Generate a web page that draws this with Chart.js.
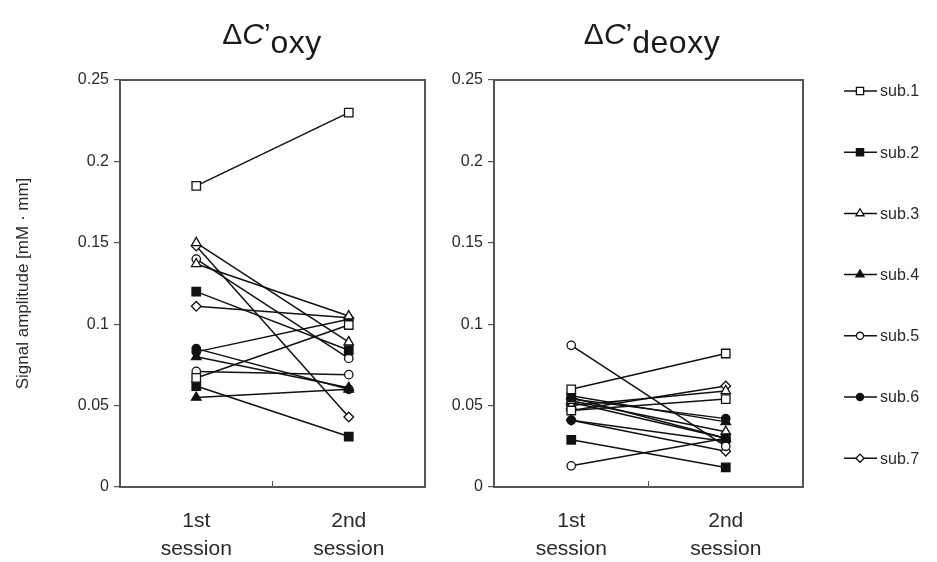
<!DOCTYPE html>
<html>
<head>
<meta charset="utf-8">
<script src="https://cdn.jsdelivr.net/npm/chart.js@4"></script>
<style>
  html, body { margin: 0; padding: 0; background: #fff; }
  #wrap { position: relative; width: 937px; height: 562px; overflow: hidden;
          font-family: "Liberation Sans", Arial, sans-serif; }
  #cA { position: absolute; left: 0; top: 0; }
  #cB { position: absolute; left: 440px; top: 0; }
  .ttl { position: absolute; top: 14px; font-size: 30px; color: #1a1a1a; white-space: nowrap;
         transform: translateX(-50%); line-height: 40px; }
  .ttl i { font-style: italic; }
  .ttl sub { font-size: 32px; letter-spacing: 0.5px; vertical-align: -9px; line-height: 0; }
</style>
</head>
<body>
<div id="wrap">
  <canvas id="cA" width="440" height="562"></canvas>
  <canvas id="cB" width="497" height="562"></canvas>
  <div class="ttl" style="left:272px">Δ<i>C</i>’<sub>oxy</sub></div>
  <div class="ttl" style="left:652px">Δ<i>C</i>’<sub>deoxy</sub></div>
</div>
<script>
// Session categories and axis labels
const sessions = [['1st', 'session'], ['2nd', 'session']];
const subjects = ['sub.1', 'sub.2', 'sub.3', 'sub.4', 'sub.5', 'sub.6', 'sub.7'];
const yTickValues = [0, 0.05, 0.1, 0.15, 0.2, 0.25];
const yTickLabels = ['0', '0.05', '0.1', '0.15', '0.2', '0.25'];
const yAxisTitle = 'Signal amplitude [mM · mm]';

// ΔC'oxy: two measurement sites per subject, [1st session, 2nd session]
const oxySub1 = [[0.185, 0.230], [0.067, 0.0995]];
const oxySub2 = [[0.120, 0.084], [0.062, 0.031]];
const oxySub3 = [[0.150, 0.089], [0.137, 0.105]];
const oxySub4 = [[0.080, 0.061], [0.055, 0.060]];
const oxySub5 = [[0.140, 0.079], [0.071, 0.069]];
const oxySub6 = [[0.085, 0.060], [0.083, 0.103]];
const oxySub7 = [[0.148, 0.043], [0.111, 0.104]];

// ΔC'deoxy: two measurement sites per subject, [1st session, 2nd session]
const deoxySub1 = [[0.060, 0.082], [0.047, 0.054]];
const deoxySub2 = [[0.029, 0.012], [0.055, 0.030]];
const deoxySub3 = [[0.053, 0.034], [0.050, 0.059]];
const deoxySub4 = [[0.056, 0.040], [0.052, 0.030]];
const deoxySub5 = [[0.087, 0.025], [0.013, 0.030]];
const deoxySub6 = [[0.054, 0.042], [0.041, 0.028]];
const deoxySub7 = [[0.047, 0.062], [0.041, 0.022]];

const oxyData = [oxySub1, oxySub2, oxySub3, oxySub4, oxySub5, oxySub6, oxySub7];
const deoxyData = [deoxySub1, deoxySub2, deoxySub3, deoxySub4, deoxySub5, deoxySub6, deoxySub7];

// Marker appearance per subject
const markerStyle = [
  { shape: 'rect',     radius: 6,   filled: false },
  { shape: 'rect',     radius: 6,   filled: true  },
  { shape: 'triangle', radius: 5.5, filled: false },
  { shape: 'triangle', radius: 5.5, filled: true  },
  { shape: 'circle',   radius: 4.2, filled: false },
  { shape: 'circle',   radius: 4.2, filled: true  },
  { shape: 'rectRot',  radius: 4.8, filled: false }
];
const INK = '#111';
const TEXT = '#2a2a2a';
const FRAME = '#555';

function buildDatasets(series) {
  const sets = [];
  series.forEach((sites, i) => {
    const m = markerStyle[i];
    sites.forEach(values => {
      sets.push({
        label: subjects[i],
        data: values,
        borderColor: INK,
        borderWidth: 1.5,
        pointStyle: m.shape,
        pointRadius: m.radius,
        pointBorderWidth: 1.3,
        pointBorderColor: INK,
        pointBackgroundColor: m.filled ? INK : '#fff',
        tension: 0
      });
    });
  });
  return sets;
}

// Frame around the plot area plus the small divider tick on the session axis
const frameBox = {
  id: 'frameBox',
  afterDatasetsDraw(chart) {
    const { ctx, chartArea: a } = chart;
    const xs = chart.scales.x;
    const mid = (xs.getPixelForValue(0) + xs.getPixelForValue(1)) / 2;
    ctx.save();
    ctx.strokeStyle = FRAME;
    ctx.lineWidth = 2;
    ctx.strokeRect(a.left, a.top, a.right - a.left, a.bottom - a.top);
    ctx.lineWidth = 1;
    ctx.beginPath();
    ctx.moveTo(mid, a.bottom);
    ctx.lineTo(mid, a.bottom - 6);
    ctx.stroke();
    ctx.restore();
  }
};

// Vertical subject key to the right of the deoxy panel
const subjectKey = {
  id: 'subjectKey',
  afterDraw(chart) {
    const { ctx, chartArea: a } = chart;
    const x0 = a.right + 41;
    const top = 91, step = 61.2;
    ctx.save();
    subjects.forEach((name, i) => {
      const m = markerStyle[i];
      const y = top + i * step;
      ctx.strokeStyle = INK;
      ctx.lineWidth = 1.5;
      ctx.beginPath();
      ctx.moveTo(x0, y);
      ctx.lineTo(x0 + 33, y);
      ctx.stroke();
      ctx.fillStyle = m.filled ? INK : '#fff';
      ctx.strokeStyle = INK;
      ctx.lineWidth = 1.3;
      Chart.helpers.drawPoint(ctx, { pointStyle: m.shape, radius: m.radius * 0.85, borderWidth: 1.3, rotation: 0 }, x0 + 16, y);
      ctx.fillStyle = TEXT;
      ctx.font = '16px "Liberation Sans", Arial, sans-serif';
      ctx.textBaseline = 'middle';
      ctx.textAlign = 'left';
      ctx.fillText(name, x0 + 36, y + 1);
    });
    ctx.restore();
  }
};

function makeOptions(yWidth, rightPad, showTitle) {
  return {
    responsive: false,
    animation: false,
    events: [],
    layout: { padding: { top: 80, right: rightPad, bottom: 0, left: 0 } },
    plugins: { legend: { display: false }, tooltip: { enabled: false } },
    scales: {
      x: {
        type: 'category',
        labels: sessions,
        offset: true,
        grid: { display: false },
        border: { display: false },
        ticks: {
          color: TEXT,
          padding: 13,
          font: { family: '"Liberation Sans", Arial, sans-serif', size: 21, lineHeight: 1.3 },
          maxRotation: 0
        },
        afterFit(s) { s.height = 75; }
      },
      y: {
        min: 0,
        max: 0.25,
        afterBuildTicks(s) { s.ticks = yTickValues.map(v => ({ value: v })); },
        ticks: {
          color: TEXT,
          padding: 5,
          font: { family: '"Liberation Sans", Arial, sans-serif', size: 16 },
          callback: (v, idx) => yTickLabels[idx]
        },
        grid: { drawOnChartArea: false, drawTicks: true, tickLength: 6, color: FRAME, lineWidth: 1.2 },
        border: { display: false },
        title: {
          display: showTitle,
          text: yAxisTitle,
          color: TEXT,
          padding: { top: 13, bottom: 0 },
          font: { family: '"Liberation Sans", Arial, sans-serif', size: 17 }
        },
        afterFit(s) { s.width = yWidth; }
      }
    }
  };
}

new Chart(document.getElementById('cA'), {
  type: 'line',
  data: { labels: sessions, datasets: buildDatasets(oxyData) },
  options: makeOptions(120, 15, true),
  plugins: [frameBox]
});

new Chart(document.getElementById('cB'), {
  type: 'line',
  data: { labels: sessions, datasets: buildDatasets(deoxyData) },
  options: makeOptions(54, 134, false),
  plugins: [frameBox, subjectKey]
});
</script>
</body>
</html>
